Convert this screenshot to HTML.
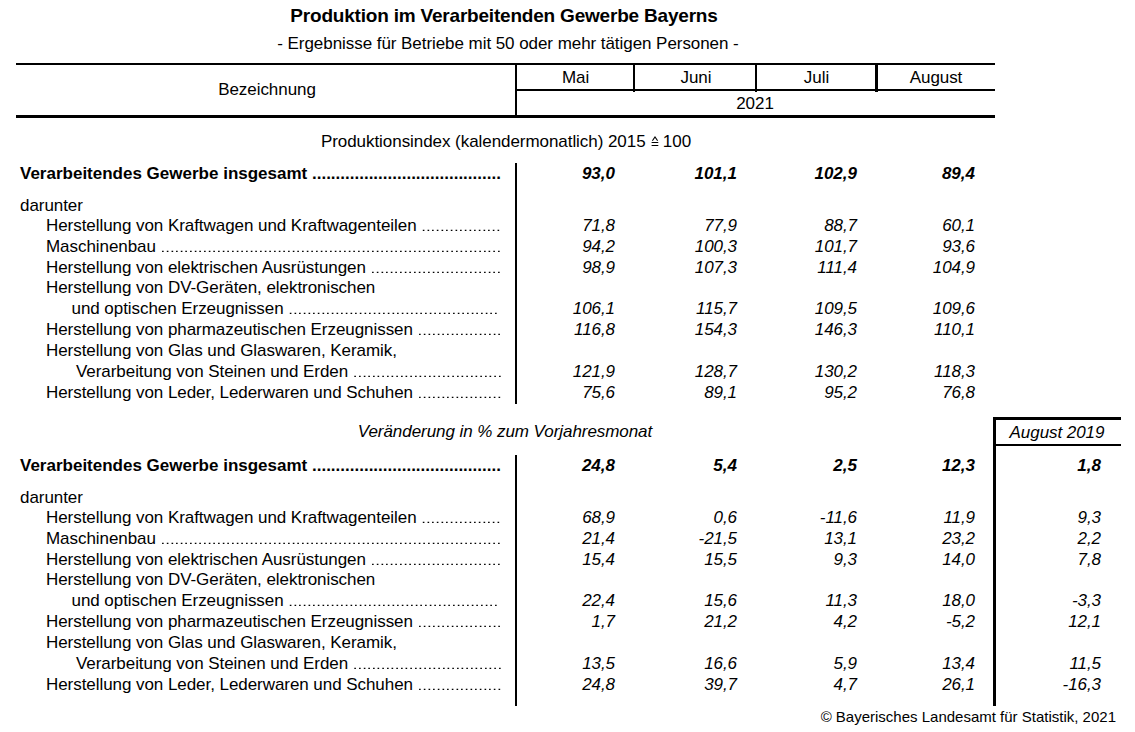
<!DOCTYPE html>
<html><head><meta charset="utf-8"><style>
html,body{margin:0;padding:0;background:#fff;}
body{width:1135px;height:732px;position:relative;overflow:hidden;font-family:"Liberation Sans", sans-serif;color:#000;}
.t{position:absolute;white-space:pre;}
.r{position:absolute;background:#000;}
.eq{display:inline-block;width:8px;}
.d{color:transparent;background:linear-gradient(to bottom,transparent 13px,rgba(0,0,0,.35) 13px,rgba(0,0,0,.35) 14px,#000 14px,#000 15px,transparent 15px);-webkit-background-clip:text;background-clip:text;}
</style></head><body>
<div class="t" style="top:5px;font-size:19px;line-height:22px;letter-spacing:-0.2px;font-weight:bold;left:204px;width:600px;text-align:center;">Produktion im Verarbeitenden Gewerbe Bayerns</div>
<div class="t" style="top:33px;font-size:17px;line-height:21px;letter-spacing:-0.058px;left:208px;width:600px;text-align:center;">- Ergebnisse für Betriebe mit 50 oder mehr tätigen Personen -</div>
<div class="r" style="left:16px;top:63px;width:979px;height:2px"></div>
<div class="r" style="left:515px;top:63px;width:2px;height:54px"></div>
<div class="r" style="left:517px;top:89px;width:478px;height:2px"></div>
<div class="r" style="left:633px;top:63px;width:2px;height:29px"></div>
<div class="r" style="left:755px;top:63px;width:2px;height:29px"></div>
<div class="r" style="left:875px;top:63px;width:3px;height:29px"></div>
<div class="r" style="left:16px;top:115px;width:979px;height:3px"></div>
<div class="t" style="top:79px;font-size:17px;line-height:21px;letter-spacing:-0.058px;left:-33px;width:600px;text-align:center;">Bezeichnung</div>
<div class="t" style="top:67px;font-size:17px;line-height:21px;letter-spacing:-0.058px;left:275.5px;width:600px;text-align:center;">Mai</div>
<div class="t" style="top:67px;font-size:17px;line-height:21px;letter-spacing:-0.058px;left:396px;width:600px;text-align:center;">Juni</div>
<div class="t" style="top:67px;font-size:17px;line-height:21px;letter-spacing:-0.058px;left:516.5px;width:600px;text-align:center;">Juli</div>
<div class="t" style="top:67px;font-size:17px;line-height:21px;letter-spacing:-0.058px;left:636px;width:600px;text-align:center;">August</div>
<div class="t" style="top:93px;font-size:17px;line-height:21px;letter-spacing:-0.058px;left:455px;width:600px;text-align:center;">2021</div>
<div class="t" style="top:131px;font-size:17px;line-height:21px;letter-spacing:-0.058px;left:206px;width:600px;text-align:center;">Produktionsindex (kalendermonatlich) 2015 <span class="eq"></span> 100</div>
<div class="r" style="left:515px;top:163px;width:2px;height:241px"></div>
<svg style="position:absolute;left:651px;top:135px" width="8" height="12" viewBox="0 0 8 12"><rect x="0.6" y="7" width="6.7" height="1"/><rect x="0.6" y="10" width="6.7" height="1"/><polyline points="1.4,5.8 4,2 6.6,5.8" fill="none" stroke="#000" stroke-width="1.1"/></svg>
<div class="t" style="top:163px;font-size:17px;line-height:21px;font-weight:bold;left:20px;">Verarbeitendes Gewerbe insgesamt ........................................</div>
<div class="t" style="top:163px;font-size:17px;line-height:21px;font-weight:bold;font-style:italic;right:520px;text-align:right;">93,0</div>
<div class="t" style="top:163px;font-size:17px;line-height:21px;font-weight:bold;font-style:italic;right:398px;text-align:right;">101,1</div>
<div class="t" style="top:163px;font-size:17px;line-height:21px;font-weight:bold;font-style:italic;right:278px;text-align:right;">102,9</div>
<div class="t" style="top:163px;font-size:17px;line-height:21px;font-weight:bold;font-style:italic;right:160px;text-align:right;">89,4</div>
<div class="t" style="top:195px;font-size:17px;line-height:21px;letter-spacing:-0.058px;left:20px;">darunter</div>
<div class="t" style="top:215px;font-size:17px;line-height:21px;letter-spacing:-0.058px;left:46px;">Herstellung von Kraftwagen und Kraftwagenteilen <span class="d">.................</span></div>
<div class="t" style="top:215px;font-size:17px;line-height:21px;letter-spacing:-0.058px;font-style:italic;right:520px;text-align:right;">71,8</div>
<div class="t" style="top:215px;font-size:17px;line-height:21px;letter-spacing:-0.058px;font-style:italic;right:398px;text-align:right;">77,9</div>
<div class="t" style="top:215px;font-size:17px;line-height:21px;letter-spacing:-0.058px;font-style:italic;right:278px;text-align:right;">88,7</div>
<div class="t" style="top:215px;font-size:17px;line-height:21px;letter-spacing:-0.058px;font-style:italic;right:160px;text-align:right;">60,1</div>
<div class="t" style="top:236px;font-size:17px;line-height:21px;letter-spacing:-0.058px;left:46px;">Maschinenbau <span class="d">.........................................................................</span></div>
<div class="t" style="top:236px;font-size:17px;line-height:21px;letter-spacing:-0.058px;font-style:italic;right:520px;text-align:right;">94,2</div>
<div class="t" style="top:236px;font-size:17px;line-height:21px;letter-spacing:-0.058px;font-style:italic;right:398px;text-align:right;">100,3</div>
<div class="t" style="top:236px;font-size:17px;line-height:21px;letter-spacing:-0.058px;font-style:italic;right:278px;text-align:right;">101,7</div>
<div class="t" style="top:236px;font-size:17px;line-height:21px;letter-spacing:-0.058px;font-style:italic;right:160px;text-align:right;">93,6</div>
<div class="t" style="top:257px;font-size:17px;line-height:21px;letter-spacing:-0.058px;left:46px;">Herstellung von elektrischen Ausrüstungen <span class="d">............................</span></div>
<div class="t" style="top:257px;font-size:17px;line-height:21px;letter-spacing:-0.058px;font-style:italic;right:520px;text-align:right;">98,9</div>
<div class="t" style="top:257px;font-size:17px;line-height:21px;letter-spacing:-0.058px;font-style:italic;right:398px;text-align:right;">107,3</div>
<div class="t" style="top:257px;font-size:17px;line-height:21px;letter-spacing:-0.058px;font-style:italic;right:278px;text-align:right;">111,4</div>
<div class="t" style="top:257px;font-size:17px;line-height:21px;letter-spacing:-0.058px;font-style:italic;right:160px;text-align:right;">104,9</div>
<div class="t" style="top:277px;font-size:17px;line-height:21px;letter-spacing:-0.058px;left:46px;">Herstellung von DV-Geräten, elektronischen</div>
<div class="t" style="top:298px;font-size:17px;line-height:21px;letter-spacing:-0.058px;left:71.5px;">und optischen Erzeugnissen <span class="d">.............................................</span></div>
<div class="t" style="top:298px;font-size:17px;line-height:21px;letter-spacing:-0.058px;font-style:italic;right:520px;text-align:right;">106,1</div>
<div class="t" style="top:298px;font-size:17px;line-height:21px;letter-spacing:-0.058px;font-style:italic;right:398px;text-align:right;">115,7</div>
<div class="t" style="top:298px;font-size:17px;line-height:21px;letter-spacing:-0.058px;font-style:italic;right:278px;text-align:right;">109,5</div>
<div class="t" style="top:298px;font-size:17px;line-height:21px;letter-spacing:-0.058px;font-style:italic;right:160px;text-align:right;">109,6</div>
<div class="t" style="top:319px;font-size:17px;line-height:21px;letter-spacing:-0.058px;left:46px;">Herstellung von pharmazeutischen Erzeugnissen <span class="d">..................</span></div>
<div class="t" style="top:319px;font-size:17px;line-height:21px;letter-spacing:-0.058px;font-style:italic;right:520px;text-align:right;">116,8</div>
<div class="t" style="top:319px;font-size:17px;line-height:21px;letter-spacing:-0.058px;font-style:italic;right:398px;text-align:right;">154,3</div>
<div class="t" style="top:319px;font-size:17px;line-height:21px;letter-spacing:-0.058px;font-style:italic;right:278px;text-align:right;">146,3</div>
<div class="t" style="top:319px;font-size:17px;line-height:21px;letter-spacing:-0.058px;font-style:italic;right:160px;text-align:right;">110,1</div>
<div class="t" style="top:340px;font-size:17px;line-height:21px;letter-spacing:-0.058px;left:46px;">Herstellung von Glas und Glaswaren, Keramik,</div>
<div class="t" style="top:361px;font-size:17px;line-height:21px;letter-spacing:-0.058px;left:76px;">Verarbeitung von Steinen und Erden <span class="d">................................</span></div>
<div class="t" style="top:361px;font-size:17px;line-height:21px;letter-spacing:-0.058px;font-style:italic;right:520px;text-align:right;">121,9</div>
<div class="t" style="top:361px;font-size:17px;line-height:21px;letter-spacing:-0.058px;font-style:italic;right:398px;text-align:right;">128,7</div>
<div class="t" style="top:361px;font-size:17px;line-height:21px;letter-spacing:-0.058px;font-style:italic;right:278px;text-align:right;">130,2</div>
<div class="t" style="top:361px;font-size:17px;line-height:21px;letter-spacing:-0.058px;font-style:italic;right:160px;text-align:right;">118,3</div>
<div class="t" style="top:382px;font-size:17px;line-height:21px;letter-spacing:-0.058px;left:46px;">Herstellung von Leder, Lederwaren und Schuhen <span class="d">..................</span></div>
<div class="t" style="top:382px;font-size:17px;line-height:21px;letter-spacing:-0.058px;font-style:italic;right:520px;text-align:right;">75,6</div>
<div class="t" style="top:382px;font-size:17px;line-height:21px;letter-spacing:-0.058px;font-style:italic;right:398px;text-align:right;">89,1</div>
<div class="t" style="top:382px;font-size:17px;line-height:21px;letter-spacing:-0.058px;font-style:italic;right:278px;text-align:right;">95,2</div>
<div class="t" style="top:382px;font-size:17px;line-height:21px;letter-spacing:-0.058px;font-style:italic;right:160px;text-align:right;">76,8</div>
<div class="t" style="top:421px;font-size:17px;line-height:21px;letter-spacing:-0.058px;font-style:italic;left:205px;width:600px;text-align:center;">Veränderung in % zum Vorjahresmonat</div>
<div class="r" style="left:515px;top:455px;width:2px;height:251px"></div>
<div class="r" style="left:993px;top:417px;width:3px;height:289px"></div>
<div class="r" style="left:993px;top:417px;width:128px;height:3px"></div>
<div class="r" style="left:993px;top:444px;width:128px;height:2px"></div>
<div class="t" style="top:422px;font-size:17px;line-height:21px;letter-spacing:-0.058px;font-style:italic;left:757px;width:600px;text-align:center;">August 2019</div>
<div class="t" style="top:455px;font-size:17px;line-height:21px;font-weight:bold;left:20px;">Verarbeitendes Gewerbe insgesamt ........................................</div>
<div class="t" style="top:455px;font-size:17px;line-height:21px;font-weight:bold;font-style:italic;right:520px;text-align:right;">24,8</div>
<div class="t" style="top:455px;font-size:17px;line-height:21px;font-weight:bold;font-style:italic;right:398px;text-align:right;">5,4</div>
<div class="t" style="top:455px;font-size:17px;line-height:21px;font-weight:bold;font-style:italic;right:278px;text-align:right;">2,5</div>
<div class="t" style="top:455px;font-size:17px;line-height:21px;font-weight:bold;font-style:italic;right:160px;text-align:right;">12,3</div>
<div class="t" style="top:455px;font-size:17px;line-height:21px;font-weight:bold;font-style:italic;right:34px;text-align:right;">1,8</div>
<div class="t" style="top:487px;font-size:17px;line-height:21px;letter-spacing:-0.058px;left:20px;">darunter</div>
<div class="t" style="top:507px;font-size:17px;line-height:21px;letter-spacing:-0.058px;left:46px;">Herstellung von Kraftwagen und Kraftwagenteilen <span class="d">.................</span></div>
<div class="t" style="top:507px;font-size:17px;line-height:21px;letter-spacing:-0.058px;font-style:italic;right:520px;text-align:right;">68,9</div>
<div class="t" style="top:507px;font-size:17px;line-height:21px;letter-spacing:-0.058px;font-style:italic;right:398px;text-align:right;">0,6</div>
<div class="t" style="top:507px;font-size:17px;line-height:21px;letter-spacing:-0.058px;font-style:italic;right:278px;text-align:right;">-11,6</div>
<div class="t" style="top:507px;font-size:17px;line-height:21px;letter-spacing:-0.058px;font-style:italic;right:160px;text-align:right;">11,9</div>
<div class="t" style="top:507px;font-size:17px;line-height:21px;letter-spacing:-0.058px;font-style:italic;right:34px;text-align:right;">9,3</div>
<div class="t" style="top:528px;font-size:17px;line-height:21px;letter-spacing:-0.058px;left:46px;">Maschinenbau <span class="d">.........................................................................</span></div>
<div class="t" style="top:528px;font-size:17px;line-height:21px;letter-spacing:-0.058px;font-style:italic;right:520px;text-align:right;">21,4</div>
<div class="t" style="top:528px;font-size:17px;line-height:21px;letter-spacing:-0.058px;font-style:italic;right:398px;text-align:right;">-21,5</div>
<div class="t" style="top:528px;font-size:17px;line-height:21px;letter-spacing:-0.058px;font-style:italic;right:278px;text-align:right;">13,1</div>
<div class="t" style="top:528px;font-size:17px;line-height:21px;letter-spacing:-0.058px;font-style:italic;right:160px;text-align:right;">23,2</div>
<div class="t" style="top:528px;font-size:17px;line-height:21px;letter-spacing:-0.058px;font-style:italic;right:34px;text-align:right;">2,2</div>
<div class="t" style="top:549px;font-size:17px;line-height:21px;letter-spacing:-0.058px;left:46px;">Herstellung von elektrischen Ausrüstungen <span class="d">............................</span></div>
<div class="t" style="top:549px;font-size:17px;line-height:21px;letter-spacing:-0.058px;font-style:italic;right:520px;text-align:right;">15,4</div>
<div class="t" style="top:549px;font-size:17px;line-height:21px;letter-spacing:-0.058px;font-style:italic;right:398px;text-align:right;">15,5</div>
<div class="t" style="top:549px;font-size:17px;line-height:21px;letter-spacing:-0.058px;font-style:italic;right:278px;text-align:right;">9,3</div>
<div class="t" style="top:549px;font-size:17px;line-height:21px;letter-spacing:-0.058px;font-style:italic;right:160px;text-align:right;">14,0</div>
<div class="t" style="top:549px;font-size:17px;line-height:21px;letter-spacing:-0.058px;font-style:italic;right:34px;text-align:right;">7,8</div>
<div class="t" style="top:569px;font-size:17px;line-height:21px;letter-spacing:-0.058px;left:46px;">Herstellung von DV-Geräten, elektronischen</div>
<div class="t" style="top:590px;font-size:17px;line-height:21px;letter-spacing:-0.058px;left:71.5px;">und optischen Erzeugnissen <span class="d">.............................................</span></div>
<div class="t" style="top:590px;font-size:17px;line-height:21px;letter-spacing:-0.058px;font-style:italic;right:520px;text-align:right;">22,4</div>
<div class="t" style="top:590px;font-size:17px;line-height:21px;letter-spacing:-0.058px;font-style:italic;right:398px;text-align:right;">15,6</div>
<div class="t" style="top:590px;font-size:17px;line-height:21px;letter-spacing:-0.058px;font-style:italic;right:278px;text-align:right;">11,3</div>
<div class="t" style="top:590px;font-size:17px;line-height:21px;letter-spacing:-0.058px;font-style:italic;right:160px;text-align:right;">18,0</div>
<div class="t" style="top:590px;font-size:17px;line-height:21px;letter-spacing:-0.058px;font-style:italic;right:34px;text-align:right;">-3,3</div>
<div class="t" style="top:611px;font-size:17px;line-height:21px;letter-spacing:-0.058px;left:46px;">Herstellung von pharmazeutischen Erzeugnissen <span class="d">..................</span></div>
<div class="t" style="top:611px;font-size:17px;line-height:21px;letter-spacing:-0.058px;font-style:italic;right:520px;text-align:right;">1,7</div>
<div class="t" style="top:611px;font-size:17px;line-height:21px;letter-spacing:-0.058px;font-style:italic;right:398px;text-align:right;">21,2</div>
<div class="t" style="top:611px;font-size:17px;line-height:21px;letter-spacing:-0.058px;font-style:italic;right:278px;text-align:right;">4,2</div>
<div class="t" style="top:611px;font-size:17px;line-height:21px;letter-spacing:-0.058px;font-style:italic;right:160px;text-align:right;">-5,2</div>
<div class="t" style="top:611px;font-size:17px;line-height:21px;letter-spacing:-0.058px;font-style:italic;right:34px;text-align:right;">12,1</div>
<div class="t" style="top:632px;font-size:17px;line-height:21px;letter-spacing:-0.058px;left:46px;">Herstellung von Glas und Glaswaren, Keramik,</div>
<div class="t" style="top:653px;font-size:17px;line-height:21px;letter-spacing:-0.058px;left:76px;">Verarbeitung von Steinen und Erden <span class="d">................................</span></div>
<div class="t" style="top:653px;font-size:17px;line-height:21px;letter-spacing:-0.058px;font-style:italic;right:520px;text-align:right;">13,5</div>
<div class="t" style="top:653px;font-size:17px;line-height:21px;letter-spacing:-0.058px;font-style:italic;right:398px;text-align:right;">16,6</div>
<div class="t" style="top:653px;font-size:17px;line-height:21px;letter-spacing:-0.058px;font-style:italic;right:278px;text-align:right;">5,9</div>
<div class="t" style="top:653px;font-size:17px;line-height:21px;letter-spacing:-0.058px;font-style:italic;right:160px;text-align:right;">13,4</div>
<div class="t" style="top:653px;font-size:17px;line-height:21px;letter-spacing:-0.058px;font-style:italic;right:34px;text-align:right;">11,5</div>
<div class="t" style="top:674px;font-size:17px;line-height:21px;letter-spacing:-0.058px;left:46px;">Herstellung von Leder, Lederwaren und Schuhen <span class="d">..................</span></div>
<div class="t" style="top:674px;font-size:17px;line-height:21px;letter-spacing:-0.058px;font-style:italic;right:520px;text-align:right;">24,8</div>
<div class="t" style="top:674px;font-size:17px;line-height:21px;letter-spacing:-0.058px;font-style:italic;right:398px;text-align:right;">39,7</div>
<div class="t" style="top:674px;font-size:17px;line-height:21px;letter-spacing:-0.058px;font-style:italic;right:278px;text-align:right;">4,7</div>
<div class="t" style="top:674px;font-size:17px;line-height:21px;letter-spacing:-0.058px;font-style:italic;right:160px;text-align:right;">26,1</div>
<div class="t" style="top:674px;font-size:17px;line-height:21px;letter-spacing:-0.058px;font-style:italic;right:34px;text-align:right;">-16,3</div>
<div class="t" style="top:708px;font-size:15px;line-height:17px;right:19px;text-align:right;">© Bayerisches Landesamt für Statistik, 2021</div>
</body></html>
